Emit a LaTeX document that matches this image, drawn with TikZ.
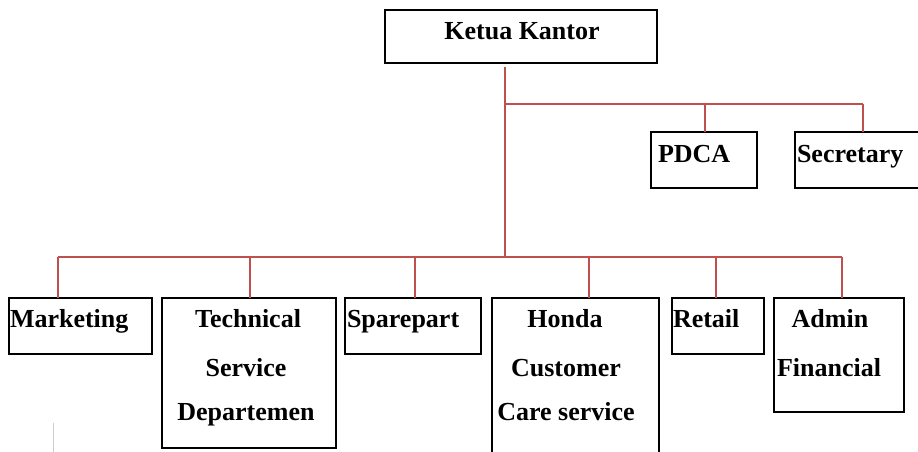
\documentclass[tikz,border=0pt]{standalone}
\usepackage{fontspec}
\setmainfont{Liberation Serif}
\begin{document}
\begin{tikzpicture}[x=1pt,y=-1pt,
  box/.style={draw=black,line width=1.8pt,rectangle,inner sep=0pt,outer sep=0pt,anchor=north west},
  lbl/.style={inner sep=0pt,outer sep=0pt,font=\fontsize{26}{30}\selectfont\bfseries},
  link/.style={draw={rgb,255:red,192;green,80;blue,77},line width=1.5pt}]
\useasboundingbox (0,0) rectangle (918,452);
% boxes
\node[box,minimum width=272pt,minimum height=53pt] (kk) at (385,10) {};
\node[box,minimum width=106pt,minimum height=56pt] (pdca) at (651,132) {};
\node[box,minimum width=130pt,minimum height=56pt] (sec) at (795,132) {};
\node[box,minimum width=143pt,minimum height=56pt] (mkt) at (9,298) {};
\node[box,minimum width=174pt,minimum height=150pt] (tech) at (162,298) {};
\node[box,minimum width=136pt,minimum height=56pt] (spare) at (345,298) {};
\node[box,minimum width=167pt,minimum height=170pt] (honda) at (492,298) {};
\node[box,minimum width=92pt,minimum height=56pt] (retail) at (672,298) {};
\node[box,minimum width=130pt,minimum height=114pt] (admin) at (774,298) {};
% texts
\node[lbl,anchor=base] (tkk) at (522,40) {Ketua Kantor};
\node[lbl,anchor=base west] (tpdca) at (658,162) {PDCA};
\node[lbl,anchor=base west] (tsec) at (797,162) {Secretary};
\node[lbl,anchor=base west] (tmkt) at (10,327) {Marketing};
\node[lbl,anchor=base] (tt1) at (248,327) {Technical};
\node[lbl,anchor=base] (tt2) at (246,376) {Service};
\node[lbl,anchor=base] (tt3) at (246,420) {Departemen};
\node[lbl,anchor=base west] (tsp) at (347,327) {Sparepart};
\node[lbl,anchor=base] (th1) at (565,327) {Honda};
\node[lbl,anchor=base] (th2) at (566,376) {Customer};
\node[lbl,anchor=base] (th3) at (566,420) {Care service};
\node[lbl,anchor=base west] (tret) at (673,327) {Retail};
\node[lbl,anchor=base] (ta1) at (830,327) {Admin};
\node[lbl,anchor=base] (ta2) at (829,376) {Financial};
% junctions
\coordinate (j1) at (505,104);
\coordinate (j2) at (505,257);
\coordinate (ju1) at (705,104);
\coordinate (ju2) at (863,104);
\coordinate (jb1) at (58,257);
\coordinate (jb2) at (250,257);
\coordinate (jb3) at (415,257);
\coordinate (jb4) at (589,257);
\coordinate (jb5) at (716,257);
\coordinate (jb6) at (842,257);
% connectors
\draw[link] (kk.south -| j1) ++(0,4) -- (j2);
\draw[link] (j1) -- (ju2);
\draw[link] (ju1) -- (ju1 |- pdca.north);
\draw[link] (ju2) -- (ju2 |- sec.north);
\draw[link] (jb1) -- (jb6);
\draw[link] (jb1) -- (jb1 |- mkt.north);
\draw[link] (jb2) -- (jb2 |- tech.north);
\draw[link] (jb3) -- (jb3 |- spare.north);
\draw[link] (jb4) -- (jb4 |- honda.north);
\draw[link] (jb5) -- (jb5 |- retail.north);
\draw[link] (jb6) -- (jb6 |- admin.north);
% cursor mark
\coordinate (c1) at (53,423);
\coordinate (c2) at (53,452);
\draw[gray!40,line width=1pt] (c1) -- (c2);
\end{tikzpicture}
\end{document}
